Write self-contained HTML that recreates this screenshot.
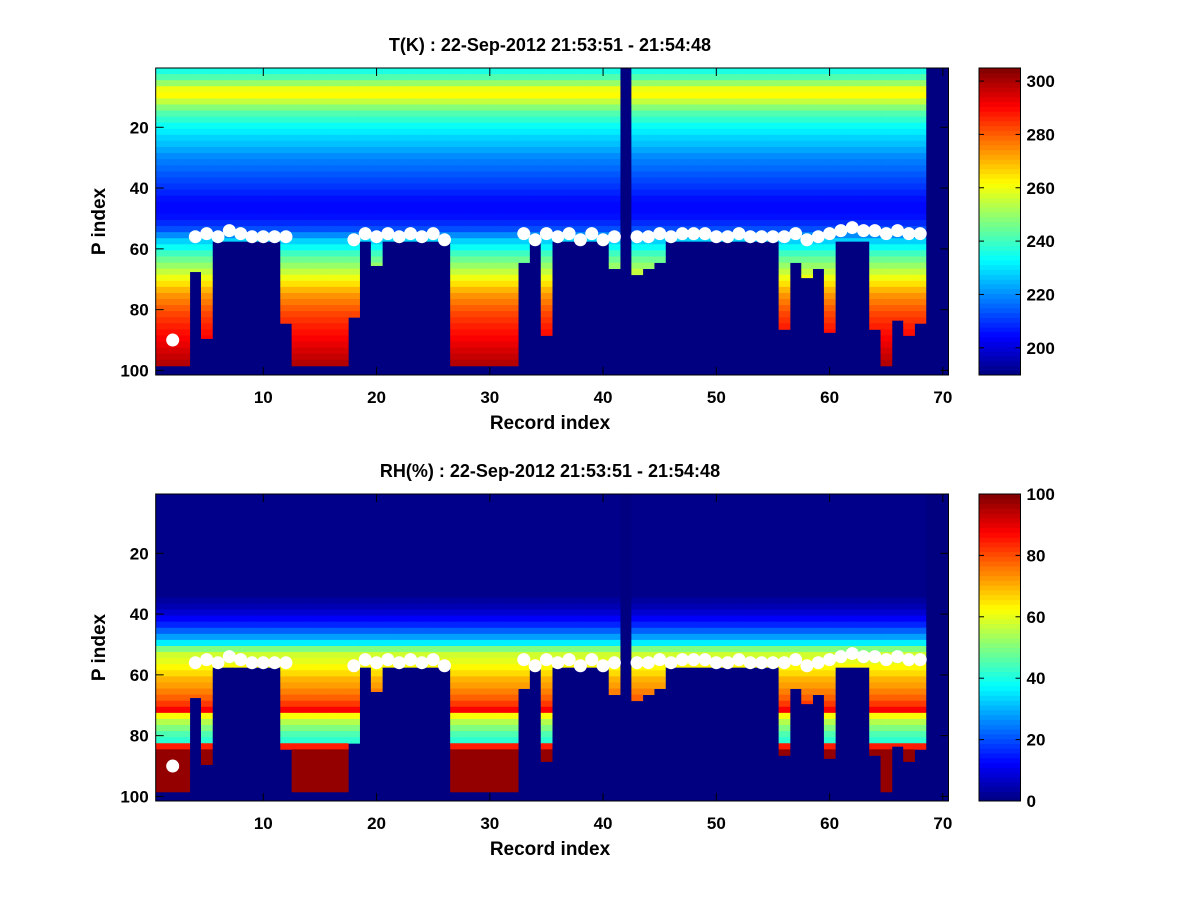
<!DOCTYPE html>
<html><head><meta charset="utf-8"><style>
body{margin:0;background:#fff;width:1200px;height:900px;overflow:hidden}
text{font-family:"Liberation Sans",Arial,sans-serif;font-weight:bold;fill:#000}
</style></head><body>
<svg id="fig" width="1200" height="900" xmlns="http://www.w3.org/2000/svg"></svg>
<script>
// ---- data ----
const records = Array.from({length:70},(_,i)=>i+1);
// last valid P index per record (0 = no data)
const cutoff = [98,98,98,67,89,57,57,57,57,57,57,84,98,98,98,98,98,82,57,65,57,57,57,57,57,57,98,98,98,98,98,98,64,57,88,57,57,57,57,57,66,0,68,66,64,57,57,57,57,57,57,57,57,57,57,86,64,69,66,87,57,57,57,86,98,83,88,84,0,0];
// surface marker P index (null = none)
const dotRow = [null,90,null,
  56,55,56,54,55,56,56,56,56,
  null,null,null,null,null,
  57,55,56,55,56,55,56,55,57,
  null,null,null,null,null,null,
  55,57,55,56,55,57,55,57,56,
  null,
  56,56,55,56,55,55,55,56,56,55,56,56,56,56,55,57,56,55,54,53,54,54,55,54,55,55,
  null,null];
// temperature profile (K), one value per 2 P levels
const tProfile = [236,242,250,260,262,255,248,242,238,234,231,228,226,223,220,218,216,214,212,210,208,206,205,205,206,209,213,220,228,234,240,245,250,255,260,265,270,274,277,280,283,285,287,289,291,293,295,297,299,299];
// relative humidity profile (%), one value per 2 P levels
const rhProfile = [1,1,1,1,1,1,1,1,1,1,1,1,1,1,1,1,1,3,5,8,12,16,22,28,36,50,58,60,63,66,70,72,75,78,82,88,62,55,50,45,42,85,98,98,98,98,98,98,98,98];
const yTicks = [20,40,60,80,100];
const xTicks = [10,20,30,40,50,60,70];
const tCbTicks = [200,220,240,260,280,300];
const rhCbTicks = [0,20,40,60,80,100];

const NS="http://www.w3.org/2000/svg";
const svg=document.getElementById('fig');
function el(tag,attrs,parent){const e=document.createElementNS(NS,tag);for(const k in attrs)e.setAttribute(k,attrs[k]);(parent||svg).appendChild(e);return e;}
function jet(v){
  v=Math.max(0,Math.min(1,v));
  const f=x=>Math.max(0,Math.min(1,x));
  const r=f(1.5-Math.abs(4*v-3)),g=f(1.5-Math.abs(4*v-2)),b=f(1.5-Math.abs(4*v-1));
  return `rgb(${Math.round(r*255)},${Math.round(g*255)},${Math.round(b*255)})`;
}
function panel(oy,profile,vmin,vmax,title,cbTicks,name){
  const L=155.7,R=948.5,T=68+oy,B=375+oy;
  const xs=c=>L+(c-0.5)*(R-L)/70;
  const ys=p=>T+(p-0.5)*(B-T)/101;
  const cs=v=>(v-vmin)/(vmax-vmin);
  const g=el('g',{});
  
  
  const bg=el('rect',{x:L,y:T,width:R-L,height:B-T,fill:jet(0)},g);
  
  
  const cells=el('g',{},g);
  
  
  records.forEach((c,i)=>{
    for(let k=0;k<profile.length;k++){
      const p0=2*k+1;
      if(p0>cutoff[i])break;
      const p1=Math.min(p0+1,cutoff[i]);
      const r=el('rect',{x:xs(c-0.5),y:ys(p0-0.5),width:xs(c+0.5)-xs(c-0.5)+0.4,height:ys(p1+0.5)-ys(p0-0.5)+0.4,fill:jet(cs(profile[k]))},cells);
      
      
    }
  });
  records.forEach((c,i)=>{
    if(dotRow[i]==null)return;
    const d=el('circle',{cx:xs(c),cy:ys(dotRow[i]),r:6.5,fill:'#fff'},g);
    
    
  });
  el('rect',{x:L,y:T,width:R-L,height:B-T,fill:'none',stroke:'#000','stroke-width':1},g);
  yTicks.forEach(t=>{
    const y=ys(t);
    el('line',{x1:L,x2:L+8,y1:y,y2:y,stroke:'#000'},g);
    el('line',{x1:R,x2:R-8,y1:y,y2:y,stroke:'#000'},g);
    const tx=el('text',{x:L-7,y:y+6,'text-anchor':'end','font-size':17},g);tx.textContent=t;
    
    
  });
  xTicks.forEach(t=>{
    const x=xs(t);
    el('line',{x1:x,x2:x,y1:B,y2:B-8,stroke:'#000'},g);
    el('line',{x1:x,x2:x,y1:T,y2:T+8,stroke:'#000'},g);
    const tx=el('text',{x:x,y:B+28,'text-anchor':'middle','font-size':17},g);tx.textContent=t;
    
    
  });
  const tt=el('text',{x:550,y:T-17,'text-anchor':'middle','font-size':18},g);tt.textContent=title;
  
  
  const xl=el('text',{x:550,y:B+54,'text-anchor':'middle','font-size':19},g);xl.textContent='Record index';
  
  
  const yl=el('text',{x:0,y:0,'text-anchor':'middle','font-size':19,transform:`translate(105,${(T+B)/2}) rotate(-90)`},g);yl.textContent='P index';
  
  
  const cb=el('g',{},g);
  
  
  const CL=979,CR=1020.5,n=64,h=(B-T)/n;
  for(let i=0;i<n;i++){
    el('rect',{x:CL,y:B-(i+1)*h,width:CR-CL,height:h+0.5,fill:jet((i+0.5)/n)},cb);
  }
  el('rect',{x:CL,y:T,width:CR-CL,height:B-T,fill:'none',stroke:'#000'},cb);
  cbTicks.forEach(t=>{
    const y=B-cs(t)*(B-T);
    el('line',{x1:CL,x2:CL+5,y1:y,y2:y,stroke:'#000'},cb);
    el('line',{x1:CR,x2:CR-5,y1:y,y2:y,stroke:'#000'},cb);
    const tx=el('text',{x:CR+6,y:y+6,'font-size':17},cb);tx.textContent=t;
    
    
  });
}
panel(0,tProfile,189.8,304.9,'T(K) : 22-Sep-2012 21:53:51 - 21:54:48',tCbTicks,'temperature');
panel(426,rhProfile,0,100,'RH(%) : 22-Sep-2012 21:53:51 - 21:54:48',rhCbTicks,'humidity');
</script>
</body></html>
